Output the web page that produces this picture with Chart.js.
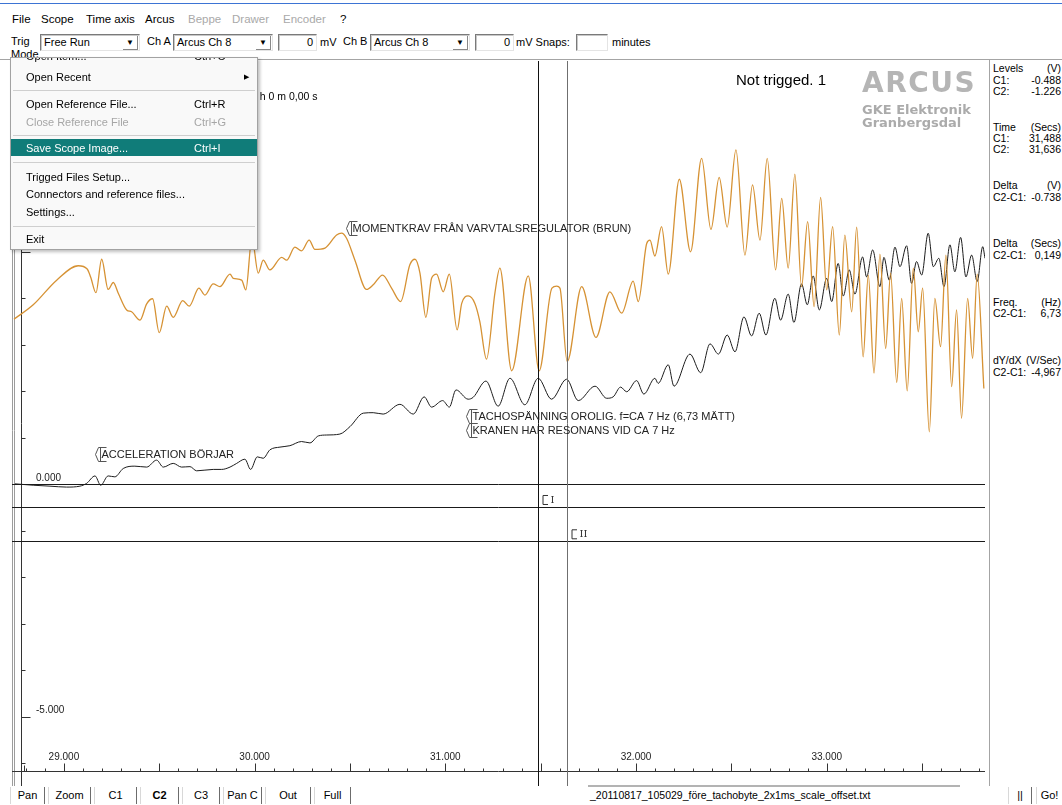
<!DOCTYPE html>
<html>
<head>
<meta charset="utf-8">
<script src="https://cdn.jsdelivr.net/npm/chart.js@4.4.1/dist/chart.umd.min.js"></script>
<style>
    body { margin: 0; width: 1062px; height: 805px; overflow: hidden; background: #fff; position: relative;
           font-family: "Liberation Sans", Arial, sans-serif; color: #000; }
    #scope { position: absolute; left: 0; top: 0; }
    .abs { position: absolute; white-space: nowrap; }
    #topbar { position: absolute; left: 0; top: 0; width: 1062px; height: 59px; background: #fff;
              border-bottom: 1px solid #a4a4a4; overflow: hidden; }
    #topbar .blue { position: absolute; left: 0; top: 3px; width: 1062px; height: 1px; background: #3d74d4; }
    .mi { position: absolute; top: 12px; font-size: 11.5px; line-height: 15px; }
    .mi.off { color: #a9a9a9; }
    .lbl { position: absolute; font-size: 11px; line-height: 13px; }
    .sel, .inp { position: absolute; top: 34px; height: 15px; background: #fff; font-size: 11px; line-height: 15px;
                 border: 1px solid; border-color: #7a7a7a #e4e4e4 #e4e4e4 #7a7a7a; box-shadow: inset 1px 1px 0 #c8c8c8; }
    .sel span { position: absolute; left: 3px; top: 0; }
    .sel b { position: absolute; right: 1px; top: 1px; width: 14px; height: 13px; font-size: 8px; line-height: 13px;
             text-align: center; font-weight: normal; border-right: 1px solid #888; border-bottom: 1px solid #888; }
    .inp { text-align: right; padding-right: 3px; box-sizing: border-box; height: 17px; }

    #menu { position: absolute; left: 10px; top: 57px; width: 246px; height: 191px; background: #f9f9f9;
            border: 1px solid #a2a2a2; box-shadow: 2px 2px 3px rgba(0,0,0,0.25); overflow: hidden;
            font-size: 11px; }
    #menu .it { position: absolute; left: 15px; line-height: 14px; white-space: nowrap; }
    #menu .sc { position: absolute; left: 183px; line-height: 14px; }
    #menu .dis { color: #a6a6a6; }
    #menu .sep { position: absolute; left: 2px; width: 242px; height: 1px; background: #cfcfcf; }
    #menu .hl { position: absolute; left: 0; top: 81px; width: 246px; height: 17px; background: #107c79; color: #fff; }

    #panel { position: absolute; left: 989px; top: 60px; width: 73px; height: 726px; background: #fff;
             border-left: 1px solid #a4a4a4; font-size: 10.5px; }
    #panel .row { position: absolute; left: 3px; width: 68px; line-height: 12px; display: flex;
                  justify-content: space-between; white-space: nowrap; }

    #bottom { position: absolute; left: 0; top: 786px; width: 1062px; height: 19px; background: #fff; font-size: 11px; }
    .btn { position: absolute; top: 1px; height: 17px; line-height: 17px; text-align: center;
           border-left: 1px solid #d8d8d8; border-right: 1px solid #6c6c6c; box-sizing: border-box; }
</style>
</head>
<body>
<canvas id="scope" width="1062" height="805"></canvas>

<div class="abs" style="left:736px; top:71px; font-size:15px;">Not trigged. 1</div>
<div class="abs" style="left:862px; top:67px; width:116px; overflow:hidden; font-family:'DejaVu Sans'; font-weight:bold; font-size:28px; line-height:31px; color:#b5b5b5; letter-spacing:1.5px;">ARCUS</div>
<div class="abs" style="left:862px; top:103px; font-family:'DejaVu Sans'; font-weight:bold; font-size:13px; line-height:13px; color:#ababab;">GKE Elektronik</div>
<div class="abs" style="left:862px; top:116px; font-family:'DejaVu Sans'; font-weight:bold; font-size:13px; line-height:13px; color:#ababab;">Granbergsdal</div>
<div class="abs" style="left:251px; top:90px; font-size:10.5px;">0 h 0 m 0,00 s</div>

<div id="topbar">
    <div class="blue"></div>
    <div class="mi" style="left:12px">File</div>
    <div class="mi" style="left:41px">Scope</div>
    <div class="mi" style="left:86px">Time axis</div>
    <div class="mi" style="left:145px">Arcus</div>
    <div class="mi off" style="left:188px">Beppe</div>
    <div class="mi off" style="left:232px">Drawer</div>
    <div class="mi off" style="left:283px">Encoder</div>
    <div class="mi" style="left:340px">?</div>

    <div class="lbl" style="left:11px; top:35px;">Trig</div>
    <div class="lbl" style="left:11px; top:48px;">Mode</div>
    <div class="sel" style="left:40px; width:98px;"><span>Free Run</span><b>&#9660;</b></div>
    <div class="lbl" style="left:147px; top:35px;">Ch A</div>
    <div class="sel" style="left:173px; width:98px;"><span>Arcus Ch 8</span><b>&#9660;</b></div>
    <div class="inp" style="left:278px; width:39px;">0</div>
    <div class="lbl" style="left:320px; top:36px;">mV</div>
    <div class="lbl" style="left:343px; top:35px;">Ch B</div>
    <div class="sel" style="left:370px; width:98px;"><span>Arcus Ch 8</span><b>&#9660;</b></div>
    <div class="inp" style="left:475px; width:39px;">0</div>
    <div class="lbl" style="left:516px; top:36px;">mV Snaps:</div>
    <div class="inp" style="left:576px; width:32px;"></div>
    <div class="lbl" style="left:612px; top:36px;">minutes</div>
</div>

<div id="menu">
    <div class="it" style="top:-9px">Open Item...</div><div class="sc" style="top:-9px">Ctrl+O</div>
    <div class="it" style="top:12px">Open Recent</div><div class="sc" style="top:12px; left:233px; font-size:7px;">&#9654;</div>
    <div class="sep" style="top:32px"></div>
    <div class="it" style="top:39px">Open Reference File...</div><div class="sc" style="top:39px">Ctrl+R</div>
    <div class="it dis" style="top:57px">Close Reference File</div><div class="sc dis" style="top:57px">Ctrl+G</div>
    <div class="sep" style="top:77px"></div>
    <div class="hl"><div class="it" style="top:2px">Save Scope Image...</div><div class="sc" style="top:2px">Ctrl+I</div></div>
    <div class="sep" style="top:104px"></div>
    <div class="it" style="top:112px">Trigged Files Setup...</div>
    <div class="it" style="top:129px">Connectors and reference files...</div>
    <div class="it" style="top:147px">Settings...</div>
    <div class="sep" style="top:168px"></div>
    <div class="it" style="top:174px">Exit</div>
</div>

<div id="panel">
    <div class="row" style="top:2px"><span>Levels</span><span>(V)</span></div>
    <div class="row" style="top:14px"><span>C1:</span><span>-0.488</span></div>
    <div class="row" style="top:25px"><span>C2:</span><span>-1.226</span></div>
    <div class="row" style="top:61px"><span>Time</span><span>(Secs)</span></div>
    <div class="row" style="top:72px"><span>C1:</span><span>31,488</span></div>
    <div class="row" style="top:83px"><span>C2:</span><span>31,636</span></div>
    <div class="row" style="top:119px"><span>Delta</span><span>(V)</span></div>
    <div class="row" style="top:131px"><span>C2-C1:</span><span>-0.738</span></div>
    <div class="row" style="top:177px"><span>Delta</span><span>(Secs)</span></div>
    <div class="row" style="top:189px"><span>C2-C1:</span><span>0,149</span></div>
    <div class="row" style="top:236px"><span>Freq.</span><span>(Hz)</span></div>
    <div class="row" style="top:247px"><span>C2-C1:</span><span>6,73</span></div>
    <div class="row" style="top:294px"><span>dY/dX</span><span>(V/Sec)</span></div>
    <div class="row" style="top:306px"><span>C2-C1:</span><span>-4,967</span></div>
</div>

<div id="bottom">
    <div class="btn" style="left:10px; width:35px;">Pan</div>
    <div class="btn" style="left:48px; width:43px;">Zoom</div>
    <div class="btn" style="left:94px; width:43px;">C1</div>
    <div class="btn" style="left:140px; width:39px; font-weight:bold;">C2</div>
    <div class="btn" style="left:182px; width:38px;">C3</div>
    <div class="btn" style="left:223px; width:39px;">Pan C</div>
    <div class="btn" style="left:265px; width:46px;">Out</div>
    <div class="btn" style="left:314px; width:37px;">Full</div>
    <div class="abs" style="left:588px; top:-1px; width:372px; height:2px; background:#b3b3b3;"></div>
    <div class="abs" style="left:590px; top:3px; font-size:10.5px; line-height:13px;">_20110817_105029_före_tachobyte_2x1ms_scale_offset.txt</div>
    <div class="btn" style="left:1008px; width:24px;">||</div>
    <div class="btn" style="left:1036px; width:26px; border-right:none;">Go!</div>
</div>

<script>
    /**
     * Data
     *
     * - time axis in seconds, level axis in volts
     * - orange: momentkrav, black: tachospänning
     */

    var xRange = [28.733, 33.830];
    var yRange = [-6.187, 9.103];

    var xTickValues = [29, 30, 31, 32, 33];
    var xTickLabels = ['29.000', '30.000', '31.000', '32.000', '33.000'];
    var yTickValues = [5, 0, -5];
    var yTickLabels = ['5.000', '0.000', '-5.000'];

    var cursorTimes = [31.488, 31.636];
    var cursorLevels = [-0.488, -1.226];
    var cursorNames = ['I', 'II'];

    var momentTimes = [28.738, 28.839, 28.962, 29.075, 29.122, 29.140, 29.168, 29.198, 29.232, 29.259,
        29.285, 29.329, 29.355, 29.399, 29.434, 29.465, 29.500, 29.539, 29.573, 29.623,
        29.657, 29.708, 29.739, 29.783, 29.818, 29.871, 29.888, 29.932, 29.954, 29.986,
        30.019, 30.045, 30.080, 30.142, 30.168, 30.211, 30.246, 30.286, 30.316, 30.369,
        30.430, 30.456, 30.482, 30.526, 30.587, 30.622, 30.671, 30.718, 30.766, 30.814,
        30.841, 30.867, 30.898, 30.928, 30.954, 30.989, 31.021, 31.062, 31.086, 31.120,
        31.155, 31.181, 31.216, 31.260, 31.286, 31.348, 31.435, 31.492, 31.559, 31.584,
        31.601, 31.639, 31.715, 31.790, 31.863, 31.925, 31.985, 32.012, 32.056, 32.073,
        32.099, 32.134, 32.169, 32.227, 32.286, 32.344, 32.393, 32.436, 32.478, 32.524,
        32.571, 32.611, 32.650, 32.688, 32.732, 32.764, 32.798, 32.833, 32.868, 32.900,
        32.934, 32.968, 33.000, 33.031, 33.066, 33.095, 33.131, 33.157, 33.191, 33.218,
        33.248, 33.279, 33.309, 33.335, 33.367, 33.393, 33.422, 33.454, 33.480, 33.503,
        33.538, 33.567, 33.597, 33.625, 33.655, 33.681, 33.707, 33.739, 33.765, 33.789,
        33.824];
    var momentVolts = [3.55, 3.86, 4.39, 4.70, 4.63, 4.46, 4.12, 4.84, 4.19, 4.34,
        4.11, 3.75, 3.71, 3.53, 3.88, 3.99, 3.26, 3.83, 3.59, 3.95,
        3.83, 4.22, 4.07, 4.31, 4.25, 4.52, 4.43, 4.39, 4.18, 5.30,
        4.54, 4.82, 4.61, 4.88, 4.82, 5.10, 5.02, 5.25, 5.05, 5.08,
        5.36, 5.40, 5.29, 4.82, 4.19, 4.29, 4.50, 4.22, 3.93, 4.72,
        4.84, 4.54, 3.59, 4.43, 4.52, 4.14, 4.52, 3.32, 3.89, 4.05,
        3.89, 3.50, 2.69, 4.11, 4.65, 2.44, 4.48, 2.44, 4.22, 4.26,
        4.22, 2.64, 4.25, 3.16, 4.14, 3.68, 4.37, 3.93, 5.18, 5.25,
        4.91, 5.54, 4.52, 6.56, 5.00, 7.01, 5.48, 6.60, 5.53, 7.19,
        4.93, 6.44, 5.25, 7.01, 4.61, 6.15, 4.65, 6.67, 4.25, 5.65,
        3.82, 6.17, 4.18, 5.54, 3.21, 5.36, 3.71, 5.53, 2.74, 4.50,
        2.39, 4.95, 2.92, 4.54, 2.19, 4.00, 2.01, 4.65, 3.28, 4.22,
        1.13, 4.00, 2.96, 4.93, 2.10, 3.75, 1.42, 4.00, 2.71, 4.52,
        2.06];

    var tachoTimes = [28.743, 28.839, 28.927, 29.014, 29.084, 29.119, 29.163, 29.193, 29.232, 29.267,
        29.311, 29.372, 29.434, 29.486, 29.521, 29.573, 29.617, 29.661, 29.696, 29.783,
        29.827, 29.871, 29.906, 29.949, 29.979, 30.014, 30.045, 30.080, 30.133, 30.185,
        30.246, 30.290, 30.334, 30.378, 30.447, 30.500, 30.570, 30.622, 30.674, 30.762,
        30.832, 30.889, 30.928, 30.986, 31.021, 31.056, 31.120, 31.146, 31.213, 31.277,
        31.339, 31.417, 31.487, 31.557, 31.636, 31.697, 31.785, 31.846, 31.880, 31.919,
        31.951, 32.003, 32.041, 32.099, 32.116, 32.169, 32.199, 32.283, 32.339, 32.388,
        32.432, 32.478, 32.519, 32.566, 32.606, 32.646, 32.681, 32.728, 32.758, 32.798,
        32.828, 32.868, 32.898, 32.929, 32.961, 33.000, 33.026, 33.060, 33.087, 33.118,
        33.148, 33.188, 33.209, 33.241, 33.279, 33.300, 33.328, 33.358, 33.384, 33.419,
        33.445, 33.471, 33.498, 33.532, 33.559, 33.588, 33.615, 33.646, 33.672, 33.702,
        33.730, 33.760, 33.789, 33.818, 33.830];
    var tachoVolts = [0.01, -0.02, -0.04, -0.06, -0.04, 0.02, 0.18, -0.02, 0.18, 0.16,
        0.34, 0.39, 0.37, 0.52, 0.37, 0.45, 0.37, 0.38, 0.29, 0.32,
        0.32, 0.37, 0.45, 0.54, 0.32, 0.59, 0.56, 0.74, 0.80, 0.83,
        0.92, 0.89, 1.04, 1.06, 1.08, 1.24, 1.53, 1.54, 1.51, 1.72,
        1.51, 1.88, 1.66, 1.80, 1.66, 2.03, 1.83, 1.87, 2.22, 1.68,
        2.28, 1.71, 2.28, 1.83, 2.26, 1.80, 2.11, 1.85, 1.88, 2.09,
        1.99, 2.23, 1.94, 2.28, 2.17, 2.57, 2.11, 2.80, 2.40, 3.02,
        2.80, 3.21, 2.85, 3.60, 3.19, 3.68, 3.21, 4.00, 3.53, 4.09,
        3.48, 4.31, 3.86, 4.48, 3.75, 4.43, 3.93, 4.75, 4.05, 4.61,
        4.09, 4.89, 4.46, 5.04, 4.25, 4.88, 4.39, 5.10, 4.68, 5.13,
        4.32, 4.79, 4.50, 5.40, 4.68, 4.86, 4.25, 5.15, 4.57, 5.31,
        4.46, 4.93, 4.36, 5.11, 4.86];

    // text notes placed on the trace (time, volts)
    var noteTexts = ['MOMENTKRAV FRÅN VARVTALSREGULATOR (BRUN)', 'TACHOSPÄNNING OROLIG. f=CA 7 Hz (6,73 MÄTT)',
        'KRANEN HAR RESONANS VID CA 7 Hz', 'ACCELERATION BÖRJAR'];
    var noteTimes = [30.479, 31.108, 31.108, 29.163];
    var noteVolts = [5.51, 1.47, 1.17, 0.65];

    /**
     * Helpers
     */

    function toPoints(xs, ys) {
        return xs.map(function (t, i) { return { x: t, y: ys[i] }; });
    }

    function crisp(v) {
        return Math.round(v) + 0.5;
    }

    function seg(ctx, x1, y1, x2, y2) {
        ctx.beginPath();
        ctx.moveTo(x1, y1);
        ctx.lineTo(x2, y2);
        ctx.stroke();
    }

    /**
     * Scope frame: axes, ticks, level lines, cursors and notes
     */

    var scopeFrame = {
        id: 'scopeFrame',
        beforeDatasetsDraw: function (chart) {
            var ctx = chart.ctx, area = chart.chartArea;
            var xs = chart.scales.x, ys = chart.scales.y;
            var axisX = crisp(area.left + 8), axisY = crisp(area.bottom - 1);
            ctx.save();
            ctx.lineWidth = 1;

            // double frame on the left
            ctx.strokeStyle = '#9c9c9c';
            seg(ctx, area.left - 0.5, area.top, area.left - 0.5, 800);
            seg(ctx, area.left + 1.5, area.top, area.left + 1.5, 800);

            // level axis
            ctx.strokeStyle = '#333';
            seg(ctx, axisX, area.top, axisX, 786);
            for (var v = Math.ceil(ys.min); v <= Math.floor(ys.max); v++) {
                var py = crisp(ys.getPixelForValue(v));
                seg(ctx, axisX, py, axisX + (v % 5 === 0 ? 9 : 4), py);
            }
            ctx.fillStyle = '#222';
            ctx.font = '10px "Liberation Sans", Arial, sans-serif';
            ctx.textAlign = 'left';
            ctx.textBaseline = 'middle';
            yTickValues.forEach(function (val, i) {
                ctx.fillText(yTickLabels[i], area.left + 23, ys.getPixelForValue(val) - 6.5);
            });

            // time axis
            seg(ctx, area.left - 1, axisY, area.right, axisY);
            for (var k = Math.ceil(xs.min * 10); k <= Math.floor(xs.max * 10); k++) {
                var px = crisp(xs.getPixelForValue(k / 10));
                seg(ctx, px, axisY, px, axisY - (k % 5 === 0 ? 8 : 3));
            }
            seg(ctx, axisX + 3, axisY, axisX + 3, axisY - 6);
            ctx.textAlign = 'center';
            xTickValues.forEach(function (val, i) {
                ctx.fillText(xTickLabels[i], xs.getPixelForValue(val), axisY - 14);
            });

            // zero line and cursor levels
            ctx.strokeStyle = '#1a1a1a';
            [0].concat(cursorLevels).forEach(function (val) {
                var py = crisp(ys.getPixelForValue(val));
                seg(ctx, area.left - 1, py, area.right, py);
            });
            ctx.restore();
        },
        afterDatasetsDraw: function (chart) {
            var ctx = chart.ctx, area = chart.chartArea;
            var xs = chart.scales.x, ys = chart.scales.y;
            ctx.save();
            ctx.lineWidth = 1;

            // cursor lines with their marks
            cursorTimes.forEach(function (t, i) {
                var px = crisp(xs.getPixelForValue(t));
                var py = ys.getPixelForValue(cursorLevels[i]) - 7;
                ctx.strokeStyle = i === 0 ? '#111' : '#6f6f6f';
                seg(ctx, px, area.top, px, 786);
                ctx.strokeStyle = '#333';
                ctx.beginPath();
                ctx.moveTo(px + 9.5, py - 4.5);
                ctx.lineTo(px + 4.5, py - 4.5);
                ctx.lineTo(px + 4.5, py + 4.5);
                ctx.lineTo(px + 9.5, py + 4.5);
                ctx.stroke();
                ctx.fillStyle = '#333';
                ctx.font = '10px "DejaVu Serif", serif';
                ctx.textAlign = 'left';
                ctx.textBaseline = 'middle';
                ctx.fillText(cursorNames[i], px + 12, py + 0.5);
            });

            // notes on the trace
            ctx.font = '11px "Liberation Sans", Arial, sans-serif';
            ctx.textAlign = 'left';
            ctx.textBaseline = 'middle';
            noteTexts.forEach(function (text, i) {
                var px = Math.round(xs.getPixelForValue(noteTimes[i])) + 0.5;
                var py = Math.round(ys.getPixelForValue(noteVolts[i])) + 0.5;
                ctx.strokeStyle = '#555';
                ctx.beginPath();
                ctx.moveTo(px + 11, py - 7);
                ctx.lineTo(px + 3, py - 7);
                ctx.lineTo(px, py);
                ctx.lineTo(px + 3, py + 7);
                ctx.lineTo(px + 11, py + 7);
                ctx.moveTo(px + 5, py - 7);
                ctx.lineTo(px + 5, py + 7);
                ctx.stroke();
                ctx.fillStyle = '#222';
                ctx.fillText(text, px + 6, py + 0.5);
            });
            ctx.restore();
        }
    };

    /**
     * Chart.js
     */

    var ctx = document.getElementById('scope').getContext('2d');
    var chart = new Chart(ctx, {
        type: 'line',
        data: {
            datasets: [{
                label: 'Momentkrav',
                data: toPoints(momentTimes, momentVolts),
                borderColor: 'rgb(214, 146, 52)',
                borderWidth: 1.3,
                cubicInterpolationMode: 'monotone'
            }, {
                label: 'Tachospänning',
                data: toPoints(tachoTimes, tachoVolts),
                borderColor: '#1c1c1c',
                borderWidth: 1,
                cubicInterpolationMode: 'monotone'
            }]
        },
        options: {
            responsive: false,
            animation: false,
            layout: { padding: { left: 13, right: 77, top: 61, bottom: 33 } },
            elements: { point: { radius: 0 } },
            plugins: { legend: { display: false }, tooltip: { enabled: false } },
            scales: {
                x: { type: 'linear', min: xRange[0], max: xRange[1], display: false },
                y: { type: 'linear', min: yRange[0], max: yRange[1], display: false }
            }
        },
        plugins: [scopeFrame]
    });
</script>
</body>
</html>
